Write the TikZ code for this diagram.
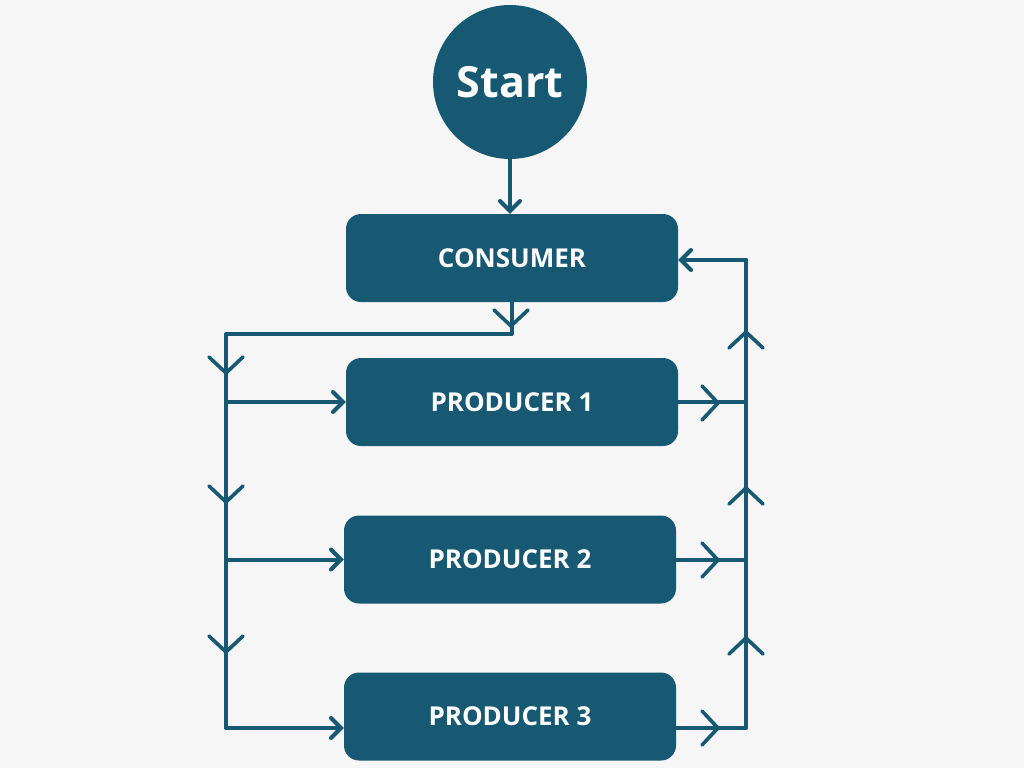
\documentclass[tikz,border=0pt]{standalone}
\usepackage{fontspec}
\setmainfont{Open Sans}
\usetikzlibrary{arrows.meta}
\definecolor{mainc}{HTML}{175873}
\definecolor{bgc}{HTML}{F6F6F6}
\begin{document}
\begin{tikzpicture}[x=1pt,y=-1pt,
  box/.style={draw=none,fill=mainc,rounded corners=15pt,minimum width=332pt,minimum height=88pt,text=white,font=\fontsize{26}{30}\selectfont\bfseries,inner sep=0pt},
  startc/.style={circle,fill=mainc,minimum size=154pt,inner sep=0pt,text=white,font=\fontsize{43}{50}\selectfont\bfseries},
  flow/.style={draw=mainc,line width=4pt,line cap=round,line join=round},
  arr/.style={flow,-{Straight Barb[length=10pt,width=20pt,line cap=round]}},
  chevline/.style={draw=mainc,line width=3.6pt,line cap=round,line join=miter},
  chev/.pic={\draw[chevline] (-16,17) -- (0,0) -- (-16,-17);}
]
\fill[bgc] (0,0) rectangle (1024,768);
\useasboundingbox (0,0) rectangle (1024,768);

\node[startc] (start) at (510,82) {Start};
\node[box] (consumer) at (512,258) {CONSUMER};
\node[box] (p1) at (512,402) {PRODUCER 1};
\node[box] (p2) at (510,559.5) {PRODUCER 2};
\node[box] (p3) at (510,716.5) {PRODUCER 3};

\coordinate (L0) at (226,334);
\coordinate (L3) at (226,728);
\coordinate (R3) at (746,728);
\coordinate (R0) at (746,260);

% start to consumer
\draw[arr] (start.south) -- (start.south |- consumer.north);

% left trunk
\draw[flow] (consumer.south) |- (L0) -- (L3);
\draw[arr] (L3) -- (L3 -| p3.west);
\draw[arr] (L0 |- p1.west) -- (p1.west);
\draw[arr] (L0 |- p2.west) -- (p2.west);

% right trunk
\draw[flow] (p1.east) -- (p1.east -| R0);
\draw[flow] (p2.east) -- (p2.east -| R0);
\draw[flow] (R3 -| p3.east) -- (R3) -- (R0);
\draw[arr] (R0) -- (R0 -| consumer.east);

% chevrons
\pic[rotate=-90] at (511,326) {chev};
\pic[rotate=-90] at (226,373) {chev};
\pic[rotate=-90] at (226,502) {chev};
\pic[rotate=-90] at (226,652) {chev};
\pic at (718,403) {chev};
\pic at (718,560) {chev};
\pic at (718,728) {chev};
\pic[rotate=90] at (746,332) {chev};
\pic[rotate=90] at (746,488) {chev};
\pic[rotate=90] at (746,638) {chev};
\end{tikzpicture}
\end{document}
